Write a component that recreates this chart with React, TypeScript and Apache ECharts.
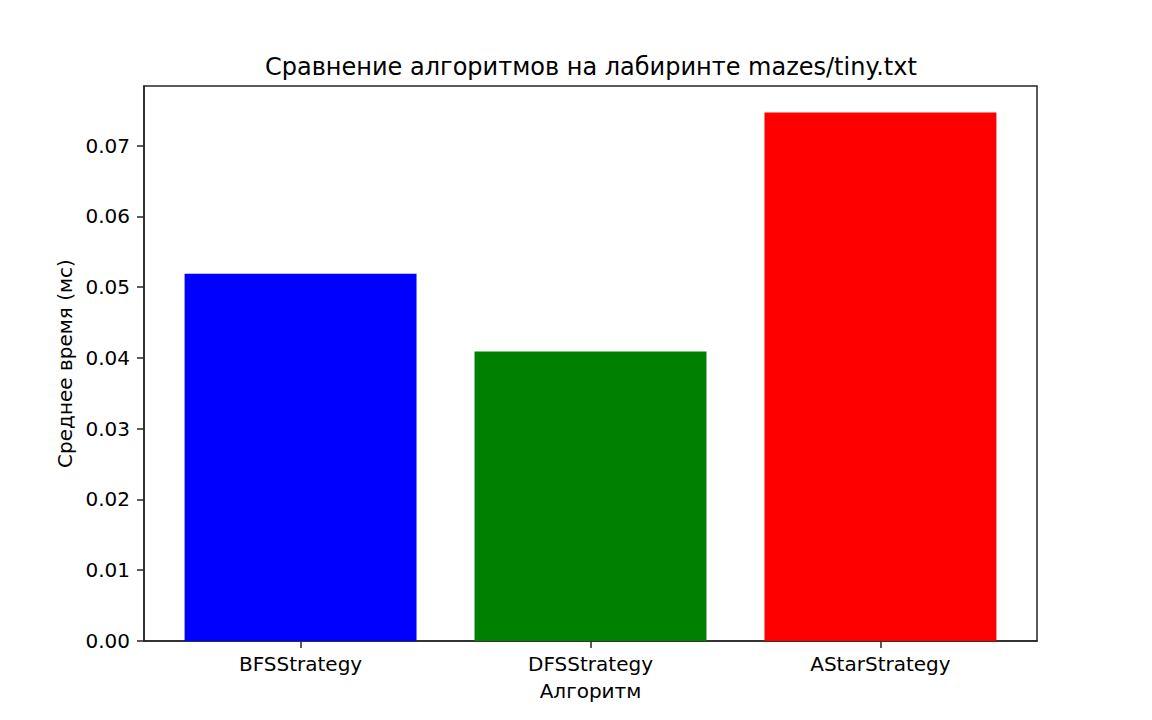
import React, { useEffect, useRef } from "react";
import * as echarts from "echarts";

const categories = ["BFSStrategy", "DFSStrategy", "AStarStrategy"];
const values = [0.0519, 0.0409, 0.0747];
const barColors = ["#0000ff", "#008000", "#ff0000"];
const yTicks = [0, 0.01, 0.02, 0.03, 0.04, 0.05, 0.06, 0.07];
const xTicks = [0, 1, 2];

const FONT = "DejaVu Sans";
const AXIS = "#262626";

export default function App() {
  const ref = useRef<HTMLDivElement>(null);
  useEffect(() => {
    document.body.style.margin = "0";
    const chart = echarts.init(ref.current!, null, { renderer: "svg" });
    const gridLeft = 144;
    const gridRight = 115;
    const plotW = 1152 - gridLeft - gridRight;
    const xMin = -0.54;
    const xMax = 2.54;
    const barW = (plotW / (xMax - xMin)) * 0.8;
    const yMax = Math.max(...values) * 1.05;
    chart.setOption({
      animation: false,
      backgroundColor: "#ffffff",
      textStyle: { fontFamily: FONT },
      title: {
        text: "Сравнение алгоритмов на лабиринте mazes/tiny.txt",
        left: 260,
        top: 50,
        textStyle: { fontFamily: FONT, fontSize: 24, fontWeight: "normal", color: "#000" },
      },
      grid: {
        left: gridLeft,
        right: gridRight,
        top: 86,
        bottom: 79,
        show: true,
        borderColor: AXIS,
        borderWidth: 1.5,
        backgroundColor: "transparent",
      },
      xAxis: {
        type: "value",
        min: xMin,
        max: xMax,
        name: "Алгоритм",
        nameLocation: "middle",
        nameGap: 40,
        nameTextStyle: { fontFamily: FONT, fontSize: 20, color: "#000" },
        splitLine: { show: false },
        axisLine: { show: true, onZero: false, lineStyle: { color: AXIS, width: 1.5 } },
        axisTick: { show: true, length: 7, customValues: xTicks, lineStyle: { color: AXIS, width: 1.5 } },
        axisLabel: {
          customValues: xTicks,
          margin: 13,
          fontFamily: FONT,
          fontSize: 20,
          color: "#000",
          formatter: (v: number) => categories[Math.round(v)] ?? "",
        },
      },
      yAxis: {
        type: "value",
        min: 0,
        max: yMax,
        name: "Среднее время (мс)",
        nameLocation: "middle",
        nameGap: 64,
        nameRotate: 90,
        nameTextStyle: { fontFamily: FONT, fontSize: 20, color: "#000" },
        splitLine: { show: false },
        axisLine: { show: true, onZero: false, lineStyle: { color: AXIS, width: 1.5 } },
        axisTick: { show: true, length: 7, customValues: yTicks, lineStyle: { color: AXIS, width: 1.5 } },
        axisLabel: {
          customValues: yTicks,
          margin: 14,
          fontFamily: FONT,
          fontSize: 20,
          color: "#000",
          formatter: (v: number) => v.toFixed(2),
        },
      },
      series: [
        {
          type: "bar",
          barWidth: barW,
          data: values.map((v, i) => ({
            value: [i, v],
            itemStyle: { color: barColors[i] },
          })),
        },
      ],
    });
    return () => chart.dispose();
  }, []);
  return <div ref={ref} style={{ width: 1152, height: 720 }} />;
}
